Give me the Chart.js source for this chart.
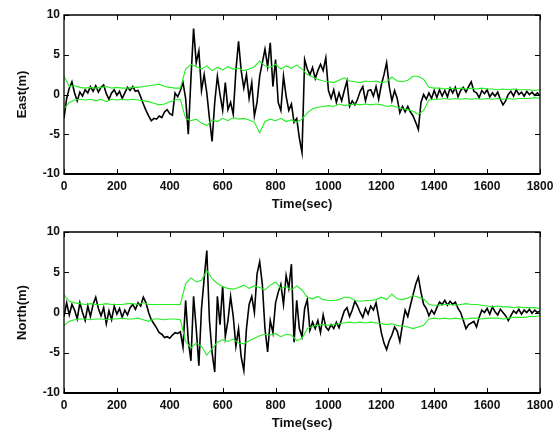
<!DOCTYPE html>
<html><head><meta charset="utf-8">
<script src="https://cdn.jsdelivr.net/npm/chart.js@4/dist/chart.umd.min.js"></script>
<style>
html,body{margin:0;padding:0;background:#fff;}
#wrap{position:relative;width:560px;height:431px;background:#fff;}
.box{position:absolute;left:0;width:560px;}
</style></head><body>
<div id="wrap">
<div class="box" style="top:0;height:215px"><canvas id="c1"></canvas></div>
<div class="box" style="top:215px;height:216px"><canvas id="c2"></canvas></div>
</div>
<script>
// x axis tick labels and y axis tick labels
const xTicks = [0,200,400,600,800,1000,1200,1400,1600,1800];
const yTicks = [-10,-5,0,5,10];
const blackStep = 10;   // seconds between samples of the black trace
const bandStep = 20;    // seconds between samples of the green bounds

// East error (m), every 10 s from 0 to 1800
const eastError = [
-3.0,-0.5,0.8,1.6,0.2,-0.8,0.3,-0.2,0.6,0.2,
1.0,0.4,1.1,0.3,0.9,1.2,0.1,-0.6,0.2,0.6,
-0.1,0.4,-0.5,0.2,0.9,0.5,1.0,0.4,0.5,-0.3,
-1.2,-2.0,-2.7,-3.3,-3.0,-3.1,-2.7,-2.9,-2.2,-1.9,
-2.4,-2.6,0.2,-0.3,0.5,1.5,-0.5,-5.0,2.0,8.3,
4.0,5.5,0.5,2.5,0.2,-3.0,-5.9,-1.0,2.3,0.0,
-2.0,1.5,-1.9,-1.0,-2.5,3.0,6.7,3.0,0.8,2.5,
-0.5,1.5,-2.7,-1.0,2.3,4.0,5.7,3.5,6.5,1.0,
4.4,-1.0,-2.0,2.3,-0.2,-2.0,-1.2,-3.5,-3.0,-5.5,
-7.3,4.4,3.2,2.5,3.4,2.0,3.0,3.8,3.0,4.6,
0.5,-0.5,0.6,-1.0,0.2,-0.8,0.5,1.7,-1.5,-0.8,
-1.3,-0.6,0.4,1.0,-0.8,0.5,0.6,-0.2,1.0,-0.6,
1.2,2.5,4.0,1.0,-0.8,0.5,-0.5,-2.3,-1.5,-2.2,
-1.5,-2.2,-2.7,-3.5,-4.4,-1.0,0.0,-0.6,0.2,-0.5,
0.5,-0.4,0.6,-0.2,0.5,-0.3,0.8,0.2,0.9,-0.3,
0.5,0.9,0.3,1.0,1.6,0.4,0.2,-0.4,0.5,0.1,
0.6,-0.3,0.2,-0.2,0.3,-0.6,-1.3,-0.8,0.0,0.4,
-0.2,0.6,0.0,0.3,-0.2,0.4,0.0,0.3,-0.1,0.2,
-0.2];

// East upper / lower bounds (m), every 20 s
const eastUpper = [
2.3,1.0,1.1,0.9,0.8,0.9,0.8,0.9,1.0,0.8,
0.9,0.8,0.8,0.9,0.9,1.0,1.1,1.2,1.3,1.0,
0.9,0.8,0.8,3.2,3.8,3.5,3.2,3.6,3.0,3.4,
3.1,3.5,3.2,3.3,3.0,3.2,3.5,4.2,3.6,3.4,
3.8,3.2,3.6,3.3,3.7,3.2,2.5,2.2,1.9,1.7,
1.6,1.5,1.8,2.1,1.7,1.6,1.5,1.7,1.6,1.7,
1.5,1.6,2.2,1.7,1.6,1.8,2.3,2.3,1.9,0.9,
0.8,0.8,0.7,0.8,0.7,0.8,0.7,0.8,0.7,0.8,
0.7,0.7,0.6,0.7,0.6,0.7,0.6,0.6,0.6,0.5,
0.6];
const eastLower = [
-1.8,-1.0,-0.7,-0.6,-0.7,-0.6,-0.8,-0.6,-0.9,-0.6,
-0.7,-0.6,-0.7,-0.6,-0.7,-0.8,-0.9,-1.1,-1.3,-1.2,
-0.9,-0.7,-0.6,-3.0,-3.3,-3.1,-3.6,-3.9,-3.2,-3.4,
-3.0,-3.3,-2.9,-3.1,-3.0,-3.2,-3.5,-4.8,-3.4,-3.1,
-3.3,-3.0,-3.4,-3.2,-3.5,-3.1,-2.3,-1.8,-1.6,-1.5,
-1.4,-1.5,-1.2,-1.4,-1.3,-1.2,-1.3,-1.2,-1.3,-1.2,
-1.3,-1.5,-1.4,-1.6,-1.8,-1.9,-2.1,-2.5,-2.0,-0.7,
-0.6,-0.6,-0.5,-0.6,-0.5,-0.6,-0.5,-0.6,-0.5,-0.6,
-0.5,-0.6,-0.5,-0.6,-0.5,-0.6,-0.5,-0.5,-0.5,-0.4,
-0.5];

// North error (m), every 10 s
const northError = [
-0.5,1.2,-0.3,1.0,0.3,-0.8,1.2,0.0,-1.0,0.8,
-0.5,1.0,1.9,0.5,-0.4,0.6,-1.4,0.2,-0.9,0.8,
-0.2,0.5,-0.6,0.3,-0.3,0.6,1.0,0.4,1.2,0.8,
1.9,1.2,0.0,-0.9,-1.4,-1.9,-2.5,-2.7,-3.1,-3.0,
-3.2,-2.8,-2.5,-2.6,-2.4,-4.3,1.5,-3.5,-6.0,2.0,
-2.0,-6.6,0.5,4.2,7.7,-1.0,-5.0,-7.4,2.0,-1.5,
3.3,-3.0,-1.0,2.0,-0.5,-4.2,-2.0,-5.5,-7.2,-2.0,
1.0,2.0,0.0,4.8,6.3,3.5,-2.0,-4.9,-1.0,-2.5,
1.2,2.5,3.5,1.0,4.6,3.0,6.0,-3.7,1.5,-2.0,
-3.0,0.5,1.6,-2.2,-1.2,-2.0,-1.0,-2.5,-0.3,-1.8,
-2.2,-1.5,-2.0,-1.2,-1.9,-0.8,0.2,0.6,-0.5,0.3,
1.4,0.8,0.0,-0.6,0.5,-0.2,0.8,0.3,1.2,-0.6,
-2.5,-3.8,-4.6,-3.5,-2.8,-1.8,-2.3,-3.6,-1.5,0.3,
-0.5,0.9,2.2,3.5,4.4,2.5,1.0,0.5,-0.4,0.3,
-0.2,0.6,1.3,1.0,1.5,0.9,1.4,1.0,1.3,0.5,
0.0,-1.0,-2.0,-1.5,-1.3,-1.1,-1.8,-0.6,0.3,0.0,
0.5,-0.2,0.7,0.1,-0.3,0.4,0.0,-0.4,-1.0,-0.4,
0.2,-0.1,0.4,-0.2,0.3,0.0,0.4,-0.1,0.3,0.0,
0.2];

// North upper / lower bounds (m), every 20 s
const northUpper = [
2.2,1.4,1.2,1.1,1.0,1.1,1.0,1.0,1.1,1.0,
1.0,1.0,1.1,1.1,1.0,1.2,1.0,1.0,1.0,1.0,
1.0,1.0,1.0,3.6,4.3,3.8,4.0,5.2,4.2,3.6,
3.2,3.0,2.9,3.1,3.4,3.0,3.3,3.1,2.8,3.4,
3.8,3.0,3.2,2.8,3.3,2.8,1.9,1.7,2.0,1.6,
1.5,1.5,1.6,1.9,1.9,1.5,1.4,1.5,1.5,1.6,
1.9,1.6,2.3,1.7,1.6,1.8,2.1,1.9,1.7,1.0,
0.9,0.9,1.0,1.0,0.9,1.0,1.1,1.0,1.0,0.9,
0.8,0.7,0.8,0.7,0.7,0.6,0.7,0.6,0.6,0.6,
0.5];
const northLower = [
-1.6,-1.1,-0.9,-0.8,-0.8,-0.9,-0.8,-0.8,-0.9,-0.8,
-0.8,-0.7,-0.8,-0.8,-0.7,-0.9,-1.1,-0.8,-0.8,-0.9,
-0.8,-0.8,-0.9,-3.6,-4.4,-3.8,-4.2,-5.3,-4.5,-3.7,
-3.4,-3.6,-3.3,-3.8,-3.9,-3.5,-3.2,-2.9,-2.7,-2.8,
-2.6,-3.0,-2.7,-2.8,-3.5,-3.2,-2.0,-1.7,-1.6,-1.5,
-1.6,-1.5,-1.4,-1.3,-1.2,-1.3,-1.2,-1.3,-1.2,-1.3,
-1.4,-1.5,-1.4,-1.6,-1.7,-1.8,-2.0,-1.8,-1.6,-0.8,
-0.7,-0.8,-0.7,-0.8,-0.7,-0.8,-0.8,-0.7,-0.7,-0.8,
-0.7,-0.7,-0.7,-0.8,-0.7,-0.6,-0.6,-0.6,-0.5,-0.5,
-0.4];

const FONT_FAMILY = '"Liberation Sans", Arial, sans-serif';
const tickFont = {family: FONT_FAMILY, size: 12, weight: 'bold'};
const titleFont = {family: FONT_FAMILY, size: 13, weight: 'bold'};
const GREEN = '#22ee22';

function pts(arr, step){ return arr.map((v,i)=>({x:i*step, y:v})); }

const framePlugin = {
  id: 'frame',
  afterDatasetsDraw(chart){
    const {ctx, chartArea:a, scales:{x, y}} = chart;
    ctx.save();
    ctx.strokeStyle = '#000';
    ctx.lineWidth = 1;
    const L = 5;
    ctx.beginPath();
    x.ticks.forEach(t=>{
      const p = Math.round(x.getPixelForValue(t.value)) + 0.5;
      ctx.moveTo(p, a.bottom); ctx.lineTo(p, a.bottom - L);
      ctx.moveTo(p, a.top); ctx.lineTo(p, a.top + L);
    });
    y.ticks.forEach(t=>{
      const p = Math.round(y.getPixelForValue(t.value)) + 0.5;
      ctx.moveTo(a.left, p); ctx.lineTo(a.left + L, p);
      ctx.moveTo(a.right, p); ctx.lineTo(a.right - L, p);
    });
    ctx.stroke();
    ctx.lineWidth = 1.3;
    ctx.beginPath();
    ctx.moveTo(a.left, a.bottom); ctx.lineTo(a.left, a.top); ctx.lineTo(a.right, a.top); ctx.lineTo(a.right, a.bottom);
    ctx.stroke();
    ctx.lineWidth = 2;
    ctx.beginPath();
    ctx.moveTo(a.left - 0.5, a.bottom); ctx.lineTo(a.right + 0.5, a.bottom);
    ctx.stroke();
    ctx.restore();
  }
};

function makeChart(id, yLabel, err, upper, lower, padTop, xAxisHeight, xTitleBottom){
  return new Chart(document.getElementById(id), {
    type: 'line',
    data: {
      datasets: [
        {data: pts(err, blackStep), borderColor: '#000', borderWidth: 1.6, pointRadius: 0, tension: 0, order: 3},
        {data: pts(upper, bandStep), borderColor: GREEN, borderWidth: 1.1, pointRadius: 0, tension: 0, order: 1},
        {data: pts(lower, bandStep), borderColor: GREEN, borderWidth: 1.1, pointRadius: 0, tension: 0, order: 2}
      ]
    },
    options: {
      responsive: true,
      maintainAspectRatio: false,
      animation: false,
      events: [],
      layout: {padding: {top: padTop, right: 20, left: 0, bottom: 0}},
      plugins: {legend: {display: false}, tooltip: {enabled: false}},
      scales: {
        x: {
          type: 'linear', min: 0, max: 1800,
          afterBuildTicks: s => { s.ticks = xTicks.map(v=>({value:v})); },
          afterFit: s => { s.height = xAxisHeight; },
          grid: {display: false, drawTicks: false},
          border: {display: false},
          ticks: {font: tickFont, color: '#111', padding: 5, maxRotation: 0, autoSkip: false, callback: v => String(v)},
          title: {display: true, text: 'Time(sec)', font: titleFont, color: '#111', padding: {top: 0, bottom: xTitleBottom}}
        },
        y: {
          type: 'linear', min: -10, max: 10,
          afterBuildTicks: s => { s.ticks = yTicks.map(v=>({value:v})); },
          afterFit: s => { s.width = 64; },
          grid: {display: false, drawTicks: false},
          border: {display: false},
          ticks: {font: tickFont, color: '#111', padding: 4, callback: v => String(v)},
          title: {display: true, text: yLabel, font: titleFont, color: '#111', padding: {top: 15, bottom: 0}}
        }
      }
    },
    plugins: [framePlugin]
  });
}

makeChart('c1', 'East(m)', eastError, eastUpper, eastLower, 15, 41, 3);
makeChart('c2', 'North(m)', northError, northUpper, northLower, 17, 38, 0);
</script>
</body></html>
